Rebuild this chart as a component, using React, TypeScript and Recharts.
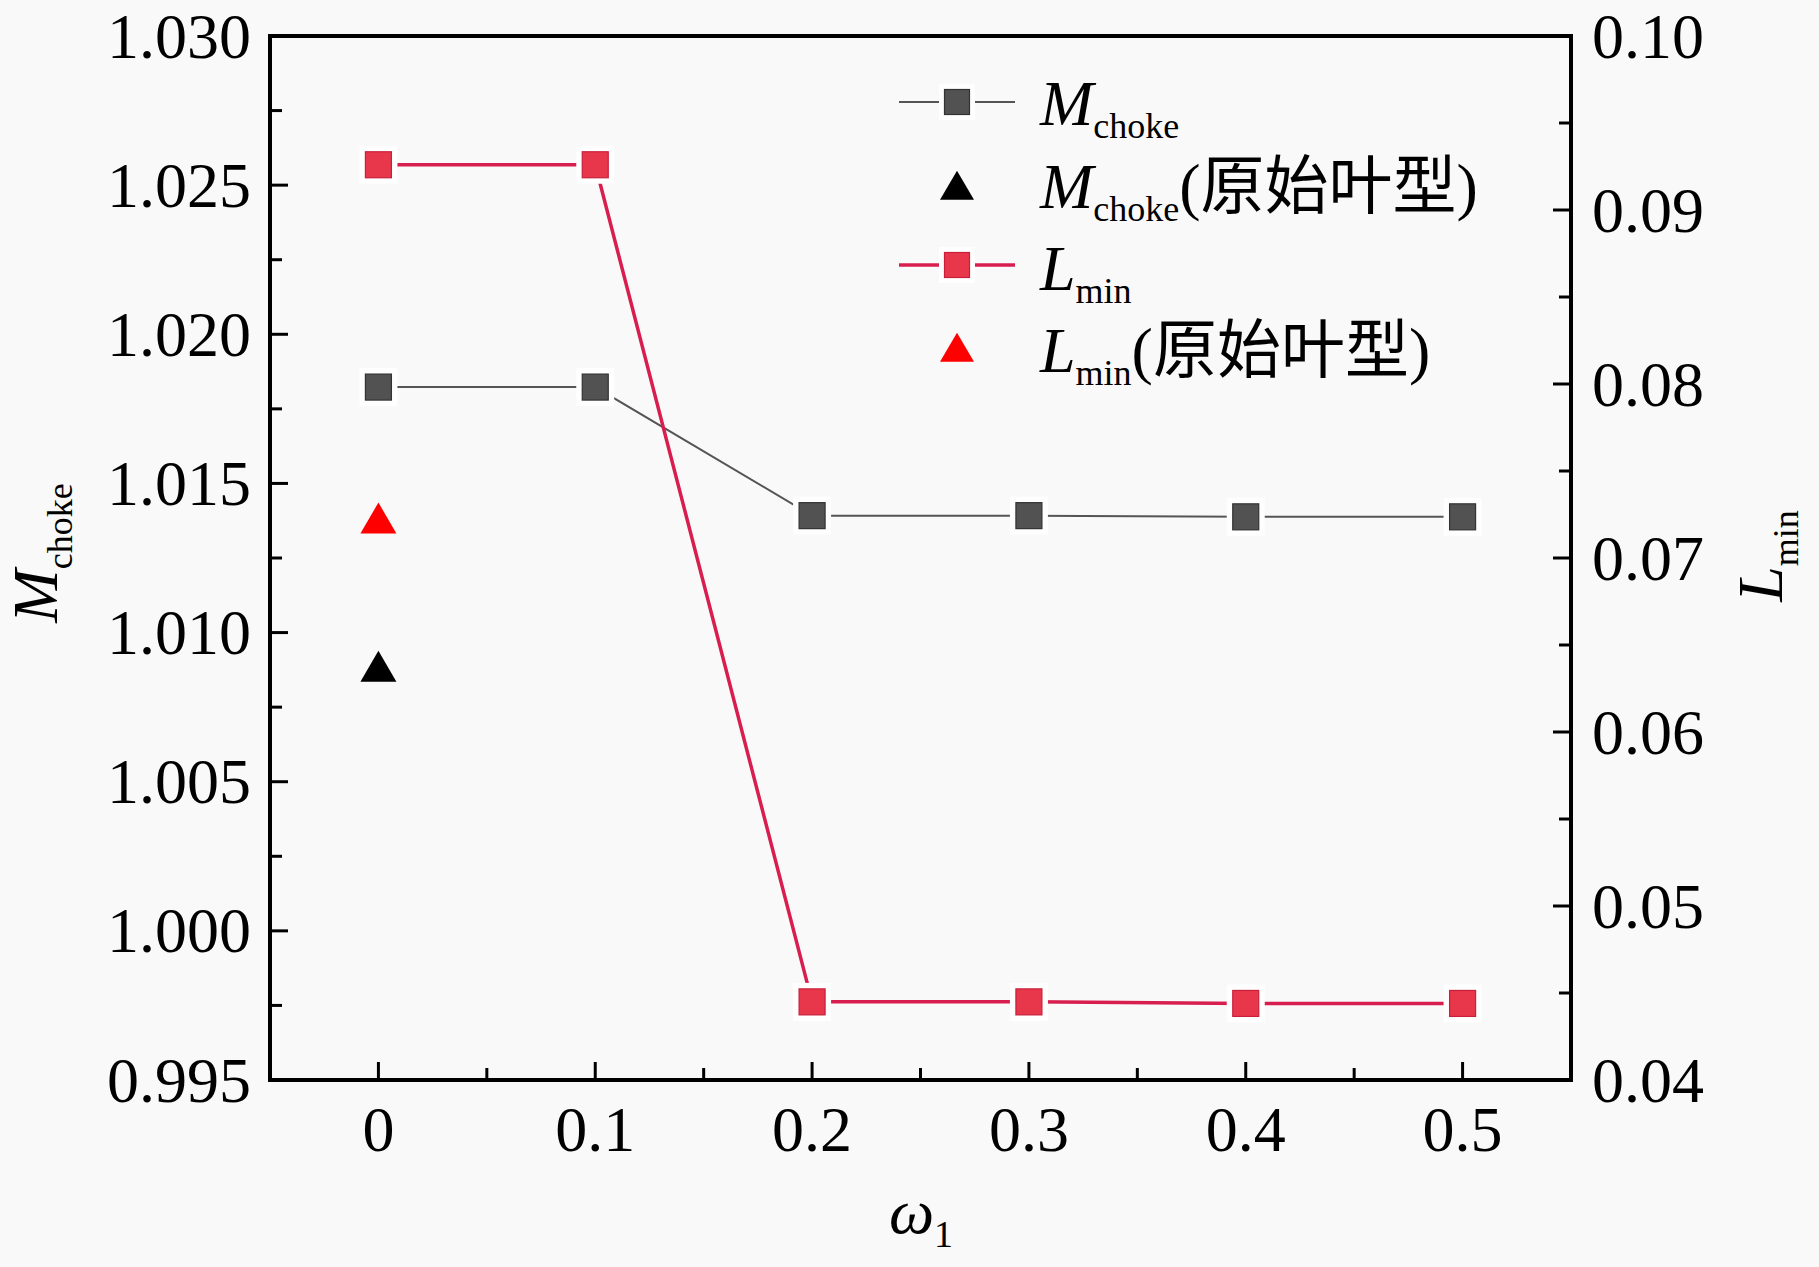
import React from 'react';
import { ComposedChart, Line, Scatter, XAxis, YAxis, ReferenceLine } from 'recharts';

// omega_1 values and the two series
const omega = [0, 0.1, 0.2, 0.3, 0.4, 0.5];
const mChoke = [1.01823, 1.01823, 1.01392, 1.01392, 1.01388, 1.01388];
const lMin = [0.0926, 0.0926, 0.04449, 0.04449, 0.0444, 0.0444];

// original blade profile (原始叶型), single points at omega = 0
const origOmega = [0];
const mChokeOrig = [1.0087];
const lMinOrig = [0.072];

const xTicks = [0, 0.05, 0.1, 0.15, 0.2, 0.25, 0.3, 0.35, 0.4, 0.45, 0.5];
const xTickLabels = ['0', '', '0.1', '', '0.2', '', '0.3', '', '0.4', '', '0.5'];
const leftTicks = [0.995, 0.9975, 1.0, 1.0025, 1.005, 1.0075, 1.01, 1.0125, 1.015, 1.0175, 1.02, 1.0225, 1.025, 1.0275, 1.03];
const leftTickLabels = ['0.995', '', '1.000', '', '1.005', '', '1.010', '', '1.015', '', '1.020', '', '1.025', '', '1.030'];
const rightTicks = [0.04, 0.045, 0.05, 0.055, 0.06, 0.065, 0.07, 0.075, 0.08, 0.085, 0.09, 0.095, 0.1];
const rightTickLabels = ['0.04', '', '0.05', '', '0.06', '', '0.07', '', '0.08', '', '0.09', '', '0.10'];

const legendLetters = ['M', 'M', 'L', 'L'];
const legendSubs = ['choke', 'choke', 'min', 'min'];
const legendSuffix = ['', '(原始叶型)', '', '(原始叶型)'];

const SERIF = "'Liberation Serif', 'Times New Roman', 'Noto Sans CJK SC', serif";
const BG = '#f9f9f9';
const GRAY_LINE = '#555555';
const GRAY_FILL = '#525252';
const RED_LINE = '#d81e4f';
const RED_FILL = '#e8374a';

const data = omega.map((w, i) => ({ w, m: mChoke[i], l: lMin[i] }));
const origM = origOmega.map((w, i) => ({ w, m: mChokeOrig[i] }));
const origL = origOmega.map((w, i) => ({ w, l: lMinOrig[i] }));

const square = (fill: string, stroke: string) => (props: any) => {
  const { cx, cy, index } = props;
  if (cx == null || cy == null) return <g key={`s-${index}`} />;
  return (
    <g key={`s-${index}`}>
      <rect x={cx - 19} y={cy - 19} width={38} height={38} fill="#fefefe" />
      <rect x={cx - 13} y={cy - 13} width={26} height={26} fill={fill} stroke={stroke} strokeWidth={1.2} />
    </g>
  );
};

const triPath = (cx: number, cy: number, w: number, h: number) =>
  `M${cx},${cy - (2 * h) / 3} L${cx + w / 2},${cy + h / 3} L${cx - w / 2},${cy + h / 3} Z`;

const triangle = (fill: string) => (props: any) => {
  const { cx, cy } = props;
  return <path d={triPath(cx, cy, 36, 31)} fill={fill} />;
};

const LeftTick = (props: any) => {
  const { x, y, index } = props;
  const label = leftTickLabels[index];
  return (
    <g>
      <line x1={x} x2={x + (label ? 18 : 12)} y1={y} y2={y} stroke="#000" strokeWidth={3} />
      {label && (
        <text x={x - 19} y={y} textAnchor="end" dominantBaseline="central" fontFamily={SERIF} fontSize={64} fill="#000">
          {label}
        </text>
      )}
    </g>
  );
};

const RightTick = (props: any) => {
  const { x, y, index } = props;
  const label = rightTickLabels[index];
  return (
    <g>
      <line x1={x} x2={x - (label ? 18 : 12)} y1={y} y2={y} stroke="#000" strokeWidth={3} />
      {label && (
        <text x={x + 21} y={y} textAnchor="start" dominantBaseline="central" fontFamily={SERIF} fontSize={64} fill="#000">
          {label}
        </text>
      )}
    </g>
  );
};

const BottomTick = (props: any) => {
  const { x, y, index } = props;
  const label = xTickLabels[index];
  return (
    <g>
      <line x1={x} x2={x} y1={y} y2={y - (label ? 18 : 12)} stroke="#000" strokeWidth={3} />
      {label && (
        <text x={x} y={y + 71} textAnchor="middle" fontFamily={SERIF} fontSize={64} fill="#000">
          {label}
        </text>
      )}
    </g>
  );
};

const rowY = [102, 185, 265, 347];
const rowBase = [125, 208, 290, 372];

const Overlay = () => (
  <svg width={1819} height={1267} style={{ position: 'absolute', left: 0, top: 0, pointerEvents: 'none' }}>
    {legendLetters.map((letter, i) => {
      const y = rowY[i];
      const isRed = letter === 'L';
      const isOrig = legendSuffix[i] !== '';
      return (
        <g key={i}>
          {!isOrig && (
            <>
              <line x1={899} x2={1015} y1={y} y2={y} stroke={isRed ? RED_LINE : GRAY_LINE} strokeWidth={isRed ? 3.5 : 2} />
              <rect x={957 - 18} y={y - 18} width={36} height={36} fill="#fefefe" />
              <rect x={957 - 12.5} y={y - 12.5} width={25} height={25} fill={isRed ? RED_FILL : GRAY_FILL} stroke={isRed ? '#c8203c' : '#333'} strokeWidth={1.2} />
            </>
          )}
          {isOrig && <path d={triPath(957, y + 5, 34, 29)} fill={isRed ? '#ff0000' : '#000'} />}
          <text x={1040} y={rowBase[i]} fontFamily={SERIF} fontSize={64} fill="#000">
            <tspan fontStyle="italic">{letter}</tspan>
            <tspan fontSize={36} dy={13}>{legendSubs[i]}</tspan>
            {isOrig && <tspan dy={-13}>{legendSuffix[i]}</tspan>}
          </text>
        </g>
      );
    })}
    {/* axis titles */}
    <text x={921} y={1233} textAnchor="middle" fontFamily={SERIF} fontSize={64} fill="#000">
      <tspan fontStyle="italic">ω</tspan>
      <tspan fontSize={38} dy={14}>1</tspan>
    </text>
    <text x={57} y={553} transform="rotate(-90, 57, 553)" textAnchor="middle" fontFamily={SERIF} fontSize={64} fill="#000">
      <tspan fontStyle="italic">M</tspan>
      <tspan fontSize={36} dy={15}>choke</tspan>
    </text>
    <text x={1782} y={556} transform="rotate(-90, 1782, 556)" textAnchor="middle" fontFamily={SERIF} fontSize={64} fill="#000">
      <tspan fontStyle="italic">L</tspan>
      <tspan fontSize={36} dy={16}>min</tspan>
    </text>
  </svg>
);

export default function App() {
  return (
    <div style={{ position: 'absolute', left: 0, top: 0, width: 1819, height: 1267, background: BG }}>
      <ComposedChart width={1819} height={1267} data={data} margin={{ top: 36, right: 0, bottom: 0, left: 0 }}>
        <XAxis
          dataKey="w"
          type="number"
          domain={[-0.05, 0.55]}
          ticks={xTicks}
          interval={0}
          height={187}
          tickSize={0}
          tickMargin={0}
          tickLine={false}
          tick={<BottomTick />}
          axisLine={{ stroke: '#000', strokeWidth: 4, strokeLinecap: 'square' }}
          allowDataOverflow
        />
        <YAxis
          yAxisId="left"
          orientation="left"
          type="number"
          domain={[0.995, 1.03]}
          ticks={leftTicks}
          interval={0}
          width={270}
          tickSize={0}
          tickMargin={0}
          tickLine={false}
          tick={<LeftTick />}
          axisLine={{ stroke: '#000', strokeWidth: 4, strokeLinecap: 'square' }}
          allowDataOverflow
        />
        <YAxis
          yAxisId="right"
          orientation="right"
          type="number"
          domain={[0.04, 0.1]}
          ticks={rightTicks}
          interval={0}
          width={248}
          tickSize={0}
          tickMargin={0}
          tickLine={false}
          tick={<RightTick />}
          axisLine={{ stroke: '#000', strokeWidth: 4, strokeLinecap: 'square' }}
          allowDataOverflow
        />
        <ReferenceLine yAxisId="left" y={1.03} stroke="#000" strokeWidth={4} />
        <Line
          yAxisId="left"
          dataKey="m"
          stroke={GRAY_LINE}
          strokeWidth={2}
          dot={square(GRAY_FILL, '#333')}
          activeDot={false}
          isAnimationActive={false}
        />
        <Line
          yAxisId="right"
          dataKey="l"
          stroke={RED_LINE}
          strokeWidth={3.5}
          dot={square(RED_FILL, '#c8203c')}
          activeDot={false}
          isAnimationActive={false}
        />
        <Scatter yAxisId="left" data={origM} dataKey="m" shape={triangle('#000')} isAnimationActive={false} />
        <Scatter yAxisId="right" data={origL} dataKey="l" shape={triangle('#ff0000')} isAnimationActive={false} />
      </ComposedChart>
      <Overlay />
    </div>
  );
}
